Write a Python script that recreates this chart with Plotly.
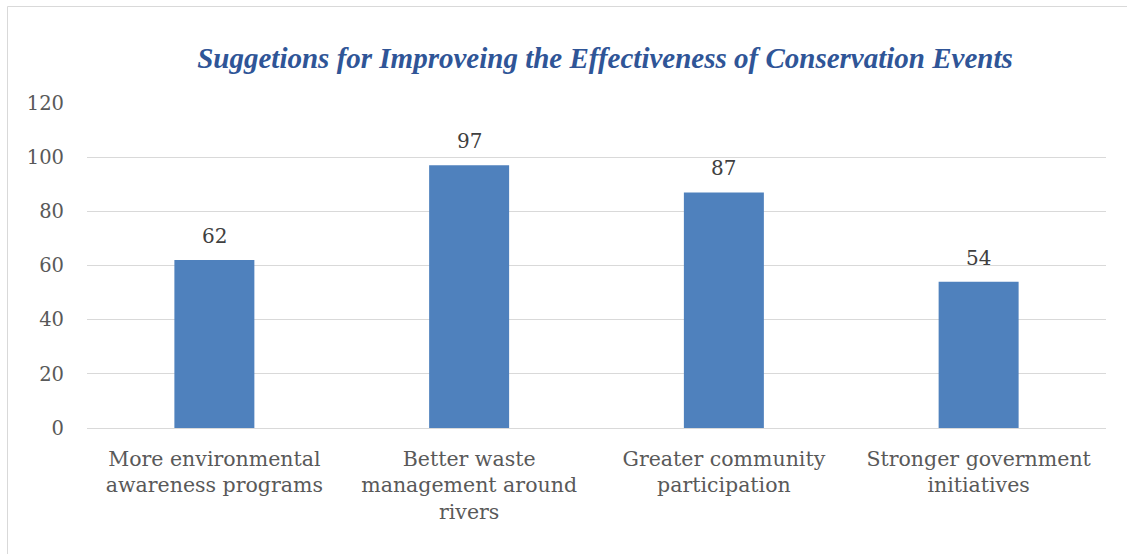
import plotly.graph_objects as go

categories = [
    "More environmental<br>awareness programs",
    "Better waste<br>management around<br>rivers",
    "Greater community<br>participation",
    "Stronger government<br>initiatives",
]
counts = [62, 97, 87, 54]
y_ticks = [0, 20, 40, 60, 80, 100, 120]

W, H = 1127, 554
L, R, T, B = 87, 21, 103, 126
plot_w = W - L - R
plot_h = H - T - B


def px_x(px):
    return (px - L) / plot_w


def px_y(py):
    return (H - B - py) / plot_h


label_font = dict(family="DejaVu Serif", size=20, color="#404040")

fig = go.Figure(
    go.Bar(
        x=categories,
        y=counts,
        marker=dict(color="#4F81BD", line=dict(width=0)),
        width=0.314,
    )
)

# value labels above each bar
for cat, v in zip(categories, counts):
    fig.add_annotation(
        x=cat,
        y=v,
        text=str(v),
        showarrow=False,
        yanchor="bottom",
        yshift=10,
        font=label_font,
    )

fig.update_layout(
    width=W,
    height=H,
    margin=dict(l=L, r=R, t=T, b=B),
    paper_bgcolor="white",
    plot_bgcolor="white",
    showlegend=False,
    title=dict(
        text="Suggetions for Improveing the Effectiveness of Conservation Events",
        font=dict(family="Liberation Serif", size=29, color="#2F5597",
                  weight="bold", style="italic"),
        x=px_x(605),
        xref="paper",
        xanchor="center",
        y=1 - 58 / H,
        yanchor="middle",
    ),
    xaxis=dict(
        showgrid=False,
        showline=False,
        ticks="",
        ticklabelstandoff=16,
        tickfont=dict(family="DejaVu Serif", size=20.5, color="#595959"),
    ),
    yaxis=dict(
        range=[0, 120],
        tickvals=y_ticks,
        showgrid=True,
        gridcolor="#D9D9D9",
        gridwidth=1,
        zeroline=True,
        zerolinecolor="#D9D9D9",
        zerolinewidth=1,
        showline=False,
        ticks="",
        ticklabelstandoff=22,
        tickfont=dict(family="DejaVu Serif", size=19.5, color="#595959"),
    ),
    shapes=[
        dict(
            type="rect",
            xref="paper",
            yref="paper",
            x0=px_x(7.5),
            x1=px_x(W + 5),
            y0=px_y(H + 5),
            y1=px_y(6.5),
            line=dict(color="#D9D9D9", width=1),
            fillcolor="rgba(0,0,0,0)",
            layer="below",
        )
    ],
)

fig.write_html("out.html")
